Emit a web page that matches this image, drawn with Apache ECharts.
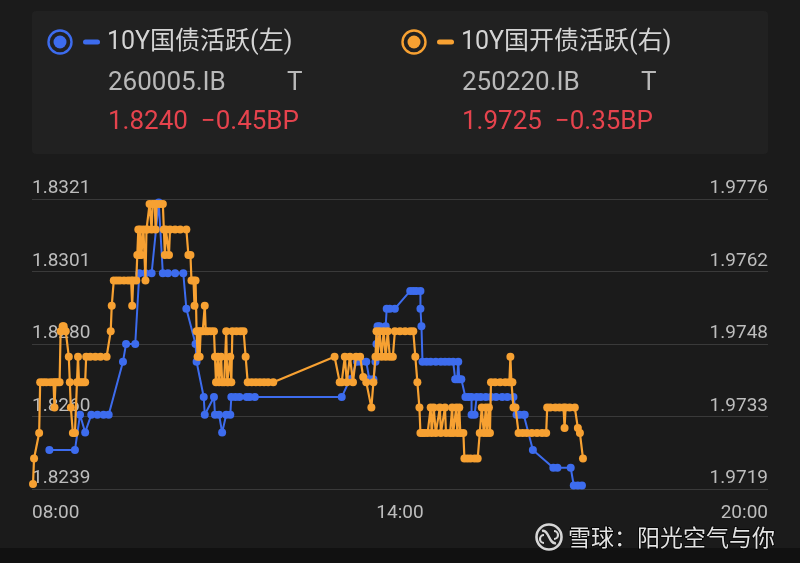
<!DOCTYPE html>
<html>
<head>
<meta charset="utf-8">
<script src="https://cdn.jsdelivr.net/npm/echarts@6/dist/echarts.min.js"></script>
<style>
  html, body { margin: 0; padding: 0; background: #1b1b1b; }
  #chart { width: 800px; height: 563px; }
</style>
</head>
<body>
<div id="chart"></div>
<script>
// 10Y treasury active bond (left axis) – trade time and yield
const blueTimes = [
  '08:17','08:42','08:47','08:52','08:58','09:04','09:10','09:15','09:29','09:32',
  '09:41','09:45','09:51','09:57','10:04','10:08','10:13','10:20','10:28','10:31',
  '10:40','10:41','10:48','10:49','10:58','10:59','11:03','11:06','11:10','11:14',
  '11:15','11:19','11:23','11:30','11:33','11:38','13:03','13:11','13:18','13:22',
  '13:27','13:30','13:34','13:36','13:37','13:38','13:40','13:46','13:47','13:50',
  '13:55','14:10','14:13','14:16','14:20','14:20','14:21','14:22','14:26','14:30',
  '14:35','14:40','14:44','14:48','14:52','14:54','14:56','14:57','14:58','15:00',
  '15:04','15:07','15:10','15:10','15:13','15:15','15:19','15:24','15:29','15:34',
  '15:40','15:45','15:51','15:54','15:57','16:01','16:02','16:10','16:30','16:34',
  '16:47','16:50','16:54','16:58'
];
const blueValues = [
  1.8250,1.8250,1.8260,1.8255,1.8260,1.8260,1.8260,1.8260,1.8275,1.8280,
  1.8280,1.8300,1.8300,1.8300,1.8320,1.8300,1.8300,1.8300,1.8300,1.8290,
  1.8280,1.8275,1.8265,1.8260,1.8265,1.8260,1.8260,1.8255,1.8260,1.8260,
  1.8265,1.8265,1.8265,1.8265,1.8265,1.8265,1.8265,1.8270,1.8275,1.8275,
  1.8275,1.8270,1.8270,1.8275,1.8280,1.8285,1.8285,1.8285,1.8290,1.8290,
  1.8290,1.8295,1.8295,1.8295,1.8295,1.8290,1.8285,1.8275,1.8275,1.8275,
  1.8275,1.8275,1.8275,1.8275,1.8275,1.8270,1.8270,1.8275,1.8270,1.8270,
  1.8265,1.8265,1.8265,1.8260,1.8260,1.8265,1.8265,1.8265,1.8265,1.8265,
  1.8265,1.8265,1.8265,1.8260,1.8260,1.8260,1.8260,1.8250,1.8245,1.8245,
  1.8245,1.8240,1.8240,1.8240
];

// 10Y policy-bank active bond (right axis) – trade time and yield
const orangeTimes = [
  '08:01','08:02','08:07','08:08','08:11','08:14','08:18','08:21','08:22','08:23',
  '08:25','08:27','08:28','08:30','08:31','08:33','08:36','08:37','08:38','08:40',
  '08:42','08:44','08:45','08:46','08:48','08:50','08:52','08:53','08:57','09:02',
  '09:07','09:13','09:17','09:18','09:20','09:23','09:26','09:30','09:34','09:37',
  '09:38','09:39','09:42','09:43','09:44','09:45','09:46','09:47','09:49','09:51',
  '09:52','09:53','09:55','09:57','09:58','10:00','10:01','10:02','10:05','10:08',
  '10:09','10:10','10:11','10:14','10:15','10:20','10:25','10:31','10:33','10:35',
  '10:36','10:38','10:39','10:40','10:41','10:42','10:43','10:44','10:45','10:47',
  '10:49','10:50','10:52','10:55','10:58','10:59','11:00','11:02','11:03','11:05',
  '11:06','11:08','11:10','11:11','11:12','11:14','11:15','11:16','11:20','11:24',
  '11:27','11:29','11:31','11:35','11:39','11:43','11:47','11:51','11:56','12:56',
  '13:01','13:03','13:06','13:08','13:11','13:14','13:17','13:21','13:24','13:27',
  '13:32','13:34','13:36','13:37','13:38','13:40','13:42','13:44','13:46','13:48',
  '13:50','13:53','13:55','14:00','14:05','14:10','14:13','14:15','14:17','14:19',
  '14:20','14:22','14:24','14:27','14:30','14:31','14:33','14:35','14:39','14:40',
  '14:44','14:45','14:49','14:51','14:52','14:55','14:56','14:58','14:59','15:02',
  '15:03','15:06','15:09','15:13','15:16','15:18','15:20','15:22','15:24','15:25',
  '15:27','15:28','15:29','15:33','15:38','15:43','15:47','15:48','15:49','15:50',
  '15:51','15:53','15:56','16:00','16:04','16:09','16:14','16:19','16:23','16:24',
  '16:27','16:32','16:36','16:40','16:41','16:42','16:46','16:51','16:54','16:56',
  '16:59'
];
const orangeValues = [
  1.9720,1.9725,1.9730,1.9740,1.9740,1.9740,1.9740,1.9740,1.9735,1.9740,
  1.9740,1.9740,1.9750,1.9751,1.9751,1.9750,1.9745,1.9740,1.9735,1.9730,
  1.9730,1.9740,1.9745,1.9740,1.9740,1.9740,1.9740,1.9745,1.9745,1.9745,
  1.9745,1.9745,1.9750,1.9755,1.9760,1.9760,1.9760,1.9760,1.9760,1.9760,
  1.9755,1.9760,1.9760,1.9765,1.9770,1.9765,1.9770,1.9765,1.9770,1.9760,
  1.9770,1.9770,1.9775,1.9770,1.9775,1.9775,1.9770,1.9775,1.9775,1.9775,
  1.9770,1.9765,1.9770,1.9765,1.9770,1.9770,1.9770,1.9770,1.9765,1.9765,
  1.9760,1.9760,1.9755,1.9760,1.9750,1.9745,1.9750,1.9745,1.9750,1.9750,
  1.9755,1.9750,1.9750,1.9750,1.9750,1.9745,1.9740,1.9745,1.9740,1.9745,
  1.9740,1.9740,1.9750,1.9740,1.9740,1.9745,1.9740,1.9750,1.9750,1.9750,
  1.9750,1.9745,1.9740,1.9740,1.9740,1.9740,1.9740,1.9740,1.9740,1.9745,
  1.9740,1.9740,1.9745,1.9740,1.9745,1.9740,1.9745,1.9745,1.9741,1.9740,
  1.9735,1.9740,1.9745,1.9750,1.9745,1.9750,1.9745,1.9750,1.9745,1.9750,
  1.9745,1.9745,1.9750,1.9750,1.9750,1.9750,1.9750,1.9745,1.9740,1.9735,
  1.9730,1.9730,1.9730,1.9730,1.9735,1.9730,1.9735,1.9730,1.9735,1.9730,
  1.9735,1.9730,1.9730,1.9735,1.9730,1.9735,1.9730,1.9735,1.9730,1.9730,
  1.9725,1.9725,1.9725,1.9725,1.9725,1.9730,1.9735,1.9730,1.9735,1.9730,
  1.9735,1.9730,1.9740,1.9740,1.9740,1.9740,1.9740,1.9745,1.9740,1.9740,
  1.9735,1.9735,1.9730,1.9730,1.9730,1.9730,1.9730,1.9730,1.9730,1.9735,
  1.9735,1.9735,1.9735,1.9735,1.9731,1.9735,1.9735,1.9735,1.9731,1.9730,
  1.9725
];

// Axis tick labels
const timeTickLabels = ['08:00', '14:00', '20:00'];
const leftTickLabels = ['1.8239', '1.8260', '1.8280', '1.8301', '1.8321'];
const rightTickLabels = ['1.9719', '1.9733', '1.9748', '1.9762', '1.9776'];

// Legend / quote header
const seriesNames = ['10Y国债活跃(左)', '10Y国开债活跃(右)'];
const bondCodes = ['260005.IB', '250220.IB'];
const bondTags = ['T', 'T'];
const lastQuotes = ['1.8240  −0.45BP', '1.9725  −0.35BP'];

const BLUE = '#3d6cee';
const ORANGE = '#f7a132';
const FONT = 'Roboto, "Noto Sans CJK SC", sans-serif';

const dayStart = 8 * 60;
function toMinutes(t) {
  const p = t.split(':');
  return Number(p[0]) * 60 + Number(p[1]) - dayStart;
}
function pairs(times, values) {
  return times.map((t, i) => [toMinutes(t), values[i]]);
}

const leftMin = Number(leftTickLabels[0]);
const leftMax = Number(leftTickLabels[leftTickLabels.length - 1]);
const rightMin = Number(rightTickLabels[0]);
const rightMax = Number(rightTickLabels[rightTickLabels.length - 1]);
const tickCount = leftTickLabels.length - 1;
const xMax = toMinutes(timeTickLabels[timeTickLabels.length - 1]);

function legendBlock(x, color, idx) {
  return [
    { type: 'circle', shape: { cx: x, cy: 42, r: 11.5 }, style: { fill: 'none', stroke: color, lineWidth: 2.4 }, z: 10 },
    { type: 'circle', shape: { cx: x, cy: 42, r: 6.5 }, style: { fill: color }, z: 10 },
    { type: 'rect', shape: { x: x + 23, y: 39.5, width: 17, height: 5, r: 2.5 }, style: { fill: color }, z: 10 },
    { type: 'text', x: x + 47, y: 43, style: { text: seriesNames[idx], fill: '#d4d4d4', font: '25px ' + FONT, verticalAlign: 'middle' }, z: 10 },
    { type: 'text', x: x + 48, y: 83, style: { text: bondCodes[idx], fill: '#b9b9b9', font: '26px ' + FONT, verticalAlign: 'middle' }, z: 10 },
    { type: 'text', x: x + 227, y: 83, style: { text: bondTags[idx], fill: '#b9b9b9', font: '26px ' + FONT, verticalAlign: 'middle' }, z: 10 },
    { type: 'text', x: x + 48, y: 122, style: { text: lastQuotes[idx], fill: '#e5434d', font: '26px ' + FONT, verticalAlign: 'middle' }, z: 10 }
  ];
}

const chart = echarts.init(document.getElementById('chart'));
chart.setOption({
  backgroundColor: '#1b1b1b',
  animation: false,
  grid: { left: 32, right: 32, top: 199, bottom: 74 },
  xAxis: {
    type: 'value',
    min: 0,
    max: xMax,
    interval: xMax / (timeTickLabels.length - 1),
    axisLine: { show: false },
    axisTick: { show: false },
    splitLine: { show: false },
    axisLabel: {
      color: '#bdbdbd',
      fontSize: 19,
      fontFamily: FONT,
      margin: 15,
      alignMinLabel: 'left',
      alignMaxLabel: 'right',
      formatter: (v, i) => timeTickLabels[i]
    }
  },
  yAxis: [
    {
      type: 'value',
      position: 'left',
      min: leftMin,
      max: leftMax,
      interval: (leftMax - leftMin) / tickCount,
      axisLine: { show: false },
      axisTick: { show: false },
      splitLine: { show: true, lineStyle: { color: '#3a3a3a', width: 1 } },
      axisLabel: {
        inside: true,
        margin: 0,
        color: '#bdbdbd',
        fontSize: 19,
        fontFamily: FONT,
        verticalAlign: 'bottom',
        padding: [0, 0, 1, 0],
        formatter: (v, i) => leftTickLabels[i]
      }
    },
    {
      type: 'value',
      position: 'right',
      min: rightMin,
      max: rightMax,
      interval: (rightMax - rightMin) / tickCount,
      axisLine: { show: false },
      axisTick: { show: false },
      splitLine: { show: false },
      axisLabel: {
        inside: true,
        margin: 0,
        color: '#bdbdbd',
        fontSize: 19,
        fontFamily: FONT,
        verticalAlign: 'bottom',
        padding: [0, 0, 1, 0],
        formatter: (v, i) => rightTickLabels[i]
      }
    }
  ],
  series: [
    {
      name: seriesNames[0],
      type: 'line',
      yAxisIndex: 0,
      data: pairs(blueTimes, blueValues),
      symbol: 'circle',
      symbolSize: 8,
      showAllSymbol: true,
      itemStyle: { color: BLUE },
      lineStyle: { color: BLUE, width: 2 },
      z: 3
    },
    {
      name: seriesNames[1],
      type: 'line',
      yAxisIndex: 1,
      data: pairs(orangeTimes, orangeValues),
      symbol: 'circle',
      symbolSize: 8,
      showAllSymbol: true,
      itemStyle: { color: ORANGE },
      lineStyle: { color: ORANGE, width: 2.2 },
      z: 4
    }
  ],
  graphic: [
    { type: 'rect', shape: { x: 32, y: 11, width: 736, height: 143, r: 4 }, style: { fill: '#212121' }, z: 0 },
    ...legendBlock(60, BLUE, 0),
    ...legendBlock(414, ORANGE, 1),
    { type: 'rect', shape: { x: 0, y: 548, width: 800, height: 15 }, style: { fill: '#111111' }, z: 0 },
    {
      type: 'group', x: 549, y: 537, z: 20,
      children: [
        { type: 'circle', shape: { cx: 0, cy: 0, r: 12.5 }, style: { fill: 'none', stroke: '#d6d6d6', lineWidth: 2.6 } },
        { type: 'bezierCurve', shape: { x1: -7, y1: -6, cpx1: 0, cpy1: -8, cpx2: 0, cpy2: 8, x2: 7, y2: 6 }, style: { fill: 'none', stroke: '#d6d6d6', lineWidth: 2.4 } },
        { type: 'arc', shape: { cx: -5, cy: 2, r: 4, startAngle: Math.PI * 0.5, endAngle: Math.PI * 1.5 }, style: { fill: 'none', stroke: '#d6d6d6', lineWidth: 2.2 } },
        { type: 'arc', shape: { cx: 5, cy: -2, r: 4, startAngle: -Math.PI * 0.5, endAngle: Math.PI * 0.5 }, style: { fill: 'none', stroke: '#d6d6d6', lineWidth: 2.2 } }
      ]
    },
    {
      type: 'text', x: 568, y: 537, z: 20,
      style: {
        text: '雪球：阳光空气与你', fill: '#e2e2e2', font: '23px "Noto Sans CJK SC", sans-serif',
        verticalAlign: 'middle', stroke: '#000000', lineWidth: 1.5
      }
    }
  ]
});
</script>
</body>
</html>
